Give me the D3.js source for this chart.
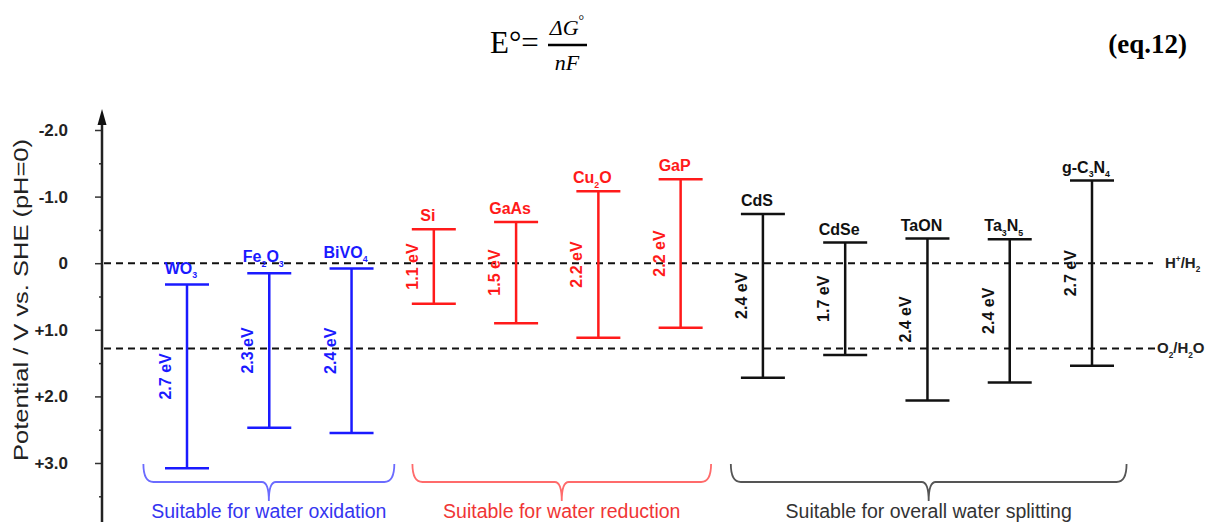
<!DOCTYPE html>
<html>
<head>
<meta charset="utf-8">
<script src="https://cdn.jsdelivr.net/npm/d3@7"></script>
<style>
  body { margin: 0; background: #fff; }
  svg { display: block; }
  text { font-family: "Liberation Sans", Arial, sans-serif; }
</style>
</head>
<body>
<script>
var width = 1213,
    height = 522

// band edges, V vs SHE
var materials = ["WO3", "Fe2O3", "BiVO4", "Si", "GaAs", "Cu2O", "GaP", "CdS", "CdSe", "TaON", "Ta3N5", "g-C3N4"];
var cbEdge = [0.32, 0.15, 0.08, -0.51, -0.62, -1.08, -1.26, -0.74, -0.31, -0.37, -0.36, -1.24];
var vbEdge = [3.08, 2.47, 2.55, 0.61, 0.90, 1.12, 0.97, 1.72, 1.38, 2.06, 1.79, 1.54];
var gapLabels = ["2.7 eV", "2.3 eV", "2.4 eV", "1.1 eV", "1.5 eV", "2.2 eV", "2.2 eV", "2.4 eV", "1.7 eV", "2.4 eV", "2.4 eV", "2.7 eV"];
var groupOf = [0, 0, 0, 1, 1, 1, 1, 2, 2, 2, 2, 2];

var groupNames = ["Suitable for water oxidation", "Suitable for water reduction", "Suitable for overall water splitting"];
var groupStart = [-0.53, 2.74, 6.61];
var groupEnd = [2.52, 6.37, 11.42];

var refValues = [0, 1.28];
var refLabels = ["H+/H2", "O2/H2O"];

var tickValues = [-2, -1, 0, 1, 2, 3];
var tickLabels = ["-2.0", "-1.0", "0", "+1.0", "+2.0", "+3.0"];
var minorTicks = [-1.5, -0.5, 0.5, 1.5, 2.5, 3.5];

var barColor = ["#1a1aff", "#ff1a1a", "#111111"];
var noteColor = ["#3535f0", "#f03535", "#333333"];
var braceColor = ["#6b6bff", "#ff6b6b", "#555555"];

var svg = d3.select("body").append("svg")
    .attr("width", width)
    .attr("height", height);

var x = d3.scaleLinear().domain([0, materials.length - 1]).range([187, 1092]);
var y = d3.scaleLinear().domain([-2, 3]).range([130, 463]);
var axisX = 102;

// digits become subscripts, "+" a superscript; the shift is undone on the next piece
function chem(sel, s, size) {
  var parts = s.match(/[0-9]+|\+|[^0-9+]+/g);
  var back = 0;
  parts.forEach(function(p) {
    var t = sel.append("tspan").text(p);
    if (/^[0-9]+$/.test(p)) {
      t.attr("font-size", size * 0.55).attr("dy", back + size * 0.28);
      back = -size * 0.28;
    } else if (p == "+") {
      t.attr("font-size", size * 0.55).attr("dy", back - size * 0.4);
      back = size * 0.4;
    } else {
      if (back) t.attr("dy", back);
      back = 0;
    }
  });
}

// equation line
var eq = svg.append("g");
eq.append("text")
    .attr("x", 490).attr("y", 53)
    .attr("font-size", 31)
    .style("font-family", "'Liberation Serif', serif")
    .text("E\u00b0=");
eq.append("text")
    .attr("x", 567).attr("y", 35)
    .attr("text-anchor", "middle")
    .attr("font-size", 22)
    .attr("font-style", "italic")
    .style("font-family", "'Liberation Serif', serif")
    .text("\u0394G")
  .append("tspan")
    .attr("font-style", "normal")
    .attr("font-size", 14)
    .attr("dy", -10)
    .text("\u00b0");
eq.append("line")
    .attr("x1", 548).attr("x2", 587)
    .attr("y1", 45).attr("y2", 45)
    .attr("stroke", "#000")
    .attr("stroke-width", 2.5);
eq.append("text")
    .attr("x", 567).attr("y", 70)
    .attr("text-anchor", "middle")
    .attr("font-size", 22)
    .attr("font-style", "italic")
    .style("font-family", "'Liberation Serif', serif")
    .text("nF");
eq.append("text")
    .attr("x", 1187).attr("y", 53)
    .attr("text-anchor", "end")
    .attr("font-size", 27)
    .attr("font-weight", "bold")
    .style("font-family", "'Liberation Serif', serif")
    .text("(eq.12)");

// y axis
var major = d3.axisLeft(y)
    .tickValues(tickValues)
    .tickFormat(function(d, i) { return tickLabels[i]; })
    .tickSize(7)
    .tickPadding(27);

var gAxis = svg.append("g")
    .attr("transform", "translate(" + axisX + ",0)")
    .call(major);
gAxis.select(".domain").remove();
gAxis.selectAll(".tick line").attr("stroke", "#333").attr("stroke-width", 1.5);
gAxis.selectAll(".tick text")
    .attr("font-size", 17)
    .attr("font-weight", "bold")
    .attr("fill", "#222")
    .style("font-family", "'Liberation Sans', Arial, sans-serif");

var gMinor = svg.append("g")
    .attr("transform", "translate(" + axisX + ",0)")
    .call(d3.axisLeft(y).tickValues(minorTicks).tickSize(3).tickFormat(""));
gMinor.select(".domain").remove();
gMinor.selectAll(".tick line").attr("stroke", "#333").attr("stroke-width", 1.5);

svg.append("line")
    .attr("x1", axisX).attr("x2", axisX)
    .attr("y1", 118).attr("y2", height)
    .attr("stroke", "#222")
    .attr("stroke-width", 2.5);
svg.append("path")
    .attr("d", "M" + axisX + ",109 L" + (axisX - 4.5) + ",125 L" + (axisX + 4.5) + ",125 Z")
    .attr("fill", "#111");

svg.append("text")
    .attr("transform", "translate(28," + 300 + ") rotate(-90)")
    .attr("text-anchor", "middle")
    .attr("font-size", 21)
    .attr("fill", "#222")
    .attr("textLength", 322)
    .attr("lengthAdjust", "spacingAndGlyphs")
    .text("Potential / V vs. SHE (pH=0)");

// reference redox levels
var refEnd = [1153, 1158];
svg.selectAll(".ref")
    .data(refValues)
    .enter()
    .append("line")
    .attr("class", "ref")
    .attr("x1", axisX + 2)
    .attr("x2", function(d, i) { return refEnd[i]; })
    .attr("y1", function(d) { return y(d); })
    .attr("y2", function(d) { return y(d); })
    .attr("stroke", "#111")
    .attr("stroke-width", 2)
    .attr("stroke-dasharray", "7,5");

var refX = [1165, 1157];
refLabels.forEach(function(s, i) {
  var t = svg.append("text")
      .attr("x", refX[i])
      .attr("y", y(refValues[i]) + 5)
      .attr("font-size", 15)
      .attr("font-weight", "bold")
      .attr("fill", "#222");
  chem(t, s, 15);
});

// band edge bars
var idx = d3.range(materials.length);
var capHalf = 22;

var bars = svg.selectAll(".band")
    .data(idx)
    .enter()
    .append("g")
    .attr("class", "band")
    .attr("stroke", function(i) { return barColor[groupOf[i]]; })
    .attr("stroke-width", 2.5);

bars.append("line")
    .attr("x1", function(i) { return x(i); })
    .attr("x2", function(i) { return x(i); })
    .attr("y1", function(i) { return y(cbEdge[i]); })
    .attr("y2", function(i) { return y(vbEdge[i]); });
bars.append("line")
    .attr("x1", function(i) { return x(i) - capHalf; })
    .attr("x2", function(i) { return x(i) + capHalf; })
    .attr("y1", function(i) { return y(cbEdge[i]); })
    .attr("y2", function(i) { return y(cbEdge[i]); });
bars.append("line")
    .attr("x1", function(i) { return x(i) - capHalf; })
    .attr("x2", function(i) { return x(i) + capHalf; })
    .attr("y1", function(i) { return y(vbEdge[i]); })
    .attr("y2", function(i) { return y(vbEdge[i]); });

idx.forEach(function(i) {
  var t = svg.append("text")
      .attr("x", x(i) - 6)
      .attr("y", y(cbEdge[i]) - (groupOf[i] == 0 ? 11 : 8))
      .attr("text-anchor", "middle")
      .attr("font-size", 16)
      .attr("font-weight", "bold")
      .attr("fill", barColor[groupOf[i]]);
  chem(t, materials[i], 16);
});

svg.selectAll(".gap")
    .data(idx)
    .enter()
    .append("text")
    .attr("class", "gap")
    .attr("transform", function(i) {
      return "translate(" + (x(i) - 16) + "," + y((cbEdge[i] + vbEdge[i]) / 2) + ") rotate(-90)";
    })
    .attr("text-anchor", "middle")
    .attr("font-size", 16)
    .attr("font-weight", "bold")
    .attr("fill", function(i) { return barColor[groupOf[i]]; })
    .text(function(i) { return gapLabels[i]; });

// group braces
function brace(x0, x1) {
  var m = (x0 + x1) / 2, top = 464, mid = 482, tip = 501;
  return "M" + x0 + "," + top +
    " Q" + x0 + "," + mid + " " + (x0 + 10) + "," + mid +
    " L" + (m - 7) + "," + mid +
    " Q" + m + "," + mid + " " + m + "," + tip +
    " Q" + m + "," + mid + " " + (m + 7) + "," + mid +
    " L" + (x1 - 10) + "," + mid +
    " Q" + x1 + "," + mid + " " + x1 + "," + top;
}

svg.selectAll(".brace")
    .data(groupNames)
    .enter()
    .append("path")
    .attr("class", "brace")
    .attr("d", function(d, i) { return brace(x(groupStart[i]), x(groupEnd[i])); })
    .attr("fill", "none")
    .attr("stroke", function(d, i) { return braceColor[i]; })
    .attr("stroke-width", 1.8);

svg.selectAll(".group")
    .data(groupNames)
    .enter()
    .append("text")
    .attr("class", "group")
    .attr("x", function(d, i) { return (x(groupStart[i]) + x(groupEnd[i])) / 2; })
    .attr("y", 518)
    .attr("text-anchor", "middle")
    .attr("font-size", 19.5)
    .attr("fill", function(d, i) { return noteColor[i]; })
    .text(function(d) { return d; });
</script>
</body>
</html>
